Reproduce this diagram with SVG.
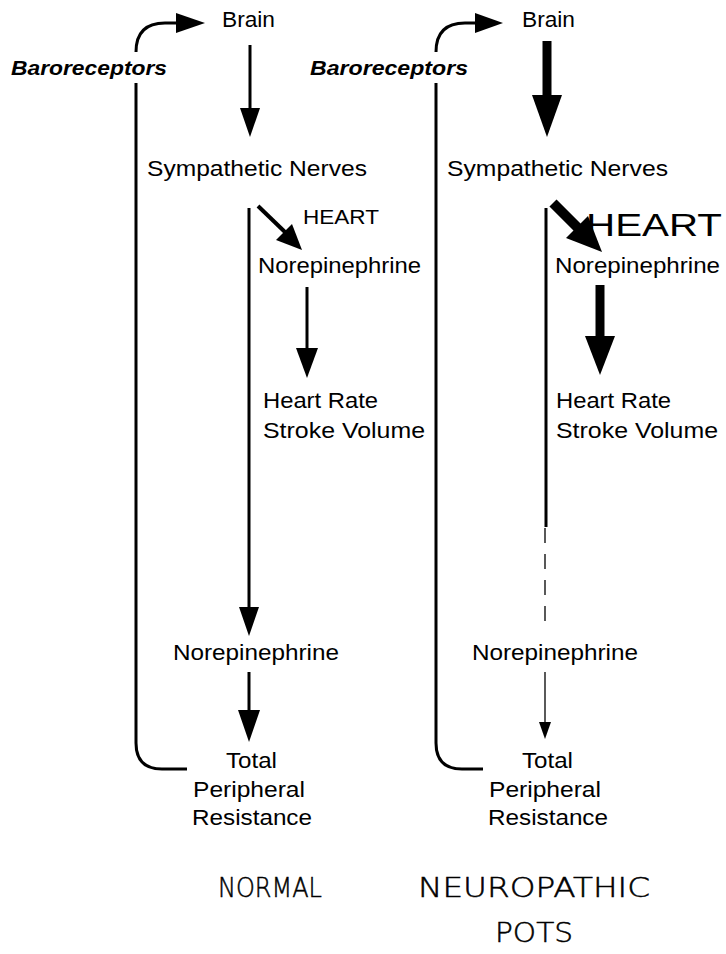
<svg xmlns="http://www.w3.org/2000/svg" width="726" height="954" viewBox="0 0 726 954">
  <style>
    text { font-family: "Liberation Sans", Arial, sans-serif; fill: #000; }
    .lbl { font-size: 22px; }
    .heart-sm { font-size: 20px; }
    .heart-lg { font-size: 32px; }
    .baro { font-size: 20px; font-weight: bold; font-style: italic; }
    .hand { font-family: "DejaVu Sans ExtraLight", "DejaVu Sans", sans-serif; font-weight: 200; font-size: 27px; stroke: #000; stroke-width: 0.5; }
    .loop { fill: none; stroke: #000; stroke-width: 3; }
    .shaft { fill: none; stroke: #000; }
    .head { fill: #000; stroke: none; }
  </style>
  <rect width="726" height="954" fill="#fff"/>

  <!-- connectors -->
  <g id="connectors">
    <!-- normal: baroreceptor loop -->
    <path class="loop" d="M 136 52 Q 136 23 165 23 L 178 23"/>
    <polygon class="head" points="205,23 176,13 176,33"/>
    <path class="loop" d="M 136 83 L 136 743 Q 136 769 162 769 L 187 769"/>
    <!-- normal: brain to sympathetic nerves -->
    <line class="shaft" stroke-width="3" x1="250" y1="45" x2="250" y2="112"/>
    <polygon class="head" points="250,137 240,108 260,108"/>
    <!-- normal: to heart -->
    <line class="shaft" stroke-width="4" x1="258" y1="206" x2="286" y2="233"/>
    <polygon class="head" points="302,250 276,240 292,224"/>
    <!-- normal: norepinephrine to heart rate -->
    <line class="shaft" stroke-width="3" x1="307" y1="287" x2="307" y2="352"/>
    <polygon class="head" points="307,378 296,348 318,348"/>
    <!-- normal: sympathetic to vascular norepinephrine -->
    <line class="shaft" stroke-width="3" x1="249" y1="208" x2="249" y2="612"/>
    <polygon class="head" points="249,636 239,607 259,607"/>
    <line class="shaft" stroke-width="3" x1="249" y1="672" x2="249" y2="714"/>
    <polygon class="head" points="249,742 238,710 260,710"/>

    <!-- neuropathic: baroreceptor loop -->
    <path class="loop" d="M 436 52 Q 436 23 465 23 L 477 23"/>
    <polygon class="head" points="503,23 475,13 475,33"/>
    <path class="loop" d="M 436 83 L 436 743 Q 436 769 462 769 L 483 769"/>
    <!-- neuropathic: brain to sympathetic nerves (heavy) -->
    <line class="shaft" stroke-width="9" x1="547" y1="41" x2="547" y2="98"/>
    <polygon class="head" points="547,137 532,95 562,95"/>
    <!-- neuropathic: to heart (heavy) -->
    <line class="shaft" stroke-width="10" x1="553" y1="203" x2="580" y2="230"/>
    <polygon class="head" points="602,252 566,238 588,216"/>
    <!-- neuropathic: norepinephrine to heart rate (heavy) -->
    <line class="shaft" stroke-width="9" x1="600" y1="285" x2="600" y2="340"/>
    <polygon class="head" points="600,375 585,336 615,336"/>
    <!-- neuropathic: weakened vascular limb -->
    <line class="shaft" stroke-width="3" x1="546" y1="208" x2="546" y2="527"/>
    <line class="shaft" stroke-width="1.3" stroke-dasharray="15 11" x1="545" y1="528" x2="545" y2="628"/>
    <line class="shaft" stroke-width="1.3" x1="545" y1="672" x2="545" y2="724"/>
    <polygon class="head" points="545,739 539,722 551,722"/>
  </g>

  <!-- normal column -->
  <g id="normal-brain"><text class="lbl" x="222" y="27" textLength="53" lengthAdjust="spacingAndGlyphs">Brain</text></g>
  <g id="normal-baroreceptors"><text class="baro" x="11" y="75" textLength="156" lengthAdjust="spacingAndGlyphs">Baroreceptors</text></g>
  <g id="normal-sympathetic"><text class="lbl" x="147" y="176" textLength="220" lengthAdjust="spacingAndGlyphs">Sympathetic Nerves</text></g>
  <g id="normal-heart"><text class="heart-sm" x="303" y="224" textLength="76" lengthAdjust="spacingAndGlyphs">HEART</text></g>
  <g id="normal-cardiac-ne"><text class="lbl" x="258" y="273" textLength="163" lengthAdjust="spacingAndGlyphs">Norepinephrine</text></g>
  <g id="normal-output">
    <text class="lbl" x="263" y="408" textLength="115" lengthAdjust="spacingAndGlyphs">Heart Rate</text>
    <text class="lbl" x="263" y="438" textLength="162" lengthAdjust="spacingAndGlyphs">Stroke Volume</text>
  </g>
  <g id="normal-vascular-ne"><text class="lbl" x="173" y="660" textLength="166" lengthAdjust="spacingAndGlyphs">Norepinephrine</text></g>
  <g id="normal-tpr">
    <text class="lbl" x="226" y="768" textLength="51" lengthAdjust="spacingAndGlyphs">Total</text>
    <text class="lbl" x="193" y="797" textLength="112" lengthAdjust="spacingAndGlyphs">Peripheral</text>
    <text class="lbl" x="192" y="825" textLength="120" lengthAdjust="spacingAndGlyphs">Resistance</text>
  </g>
  <g id="normal-title"><text class="hand" x="218" y="897" textLength="104" lengthAdjust="spacingAndGlyphs">NORMAL</text></g>

  <!-- neuropathic column -->
  <g id="pots-brain"><text class="lbl" x="522" y="27" textLength="53" lengthAdjust="spacingAndGlyphs">Brain</text></g>
  <g id="pots-baroreceptors"><text class="baro" x="310" y="75" textLength="158" lengthAdjust="spacingAndGlyphs">Baroreceptors</text></g>
  <g id="pots-sympathetic"><text class="lbl" x="447" y="176" textLength="221" lengthAdjust="spacingAndGlyphs">Sympathetic Nerves</text></g>
  <g id="pots-heart"><text class="heart-lg" x="586" y="236" textLength="136" lengthAdjust="spacingAndGlyphs">HEART</text></g>
  <g id="pots-cardiac-ne"><text class="lbl" x="555" y="273" textLength="165" lengthAdjust="spacingAndGlyphs">Norepinephrine</text></g>
  <g id="pots-output">
    <text class="lbl" x="556" y="408" textLength="115" lengthAdjust="spacingAndGlyphs">Heart Rate</text>
    <text class="lbl" x="556" y="438" textLength="162" lengthAdjust="spacingAndGlyphs">Stroke Volume</text>
  </g>
  <g id="pots-vascular-ne"><text class="lbl" x="472" y="660" textLength="166" lengthAdjust="spacingAndGlyphs">Norepinephrine</text></g>
  <g id="pots-tpr">
    <text class="lbl" x="522" y="768" textLength="51" lengthAdjust="spacingAndGlyphs">Total</text>
    <text class="lbl" x="489" y="797" textLength="112" lengthAdjust="spacingAndGlyphs">Peripheral</text>
    <text class="lbl" x="488" y="825" textLength="120" lengthAdjust="spacingAndGlyphs">Resistance</text>
  </g>
  <g id="pots-title">
    <text class="hand" x="418" y="897" textLength="232" lengthAdjust="spacingAndGlyphs">NEUROPATHIC</text>
    <text class="hand" x="495" y="942" textLength="78" lengthAdjust="spacingAndGlyphs">POTS</text>
  </g>
</svg>
